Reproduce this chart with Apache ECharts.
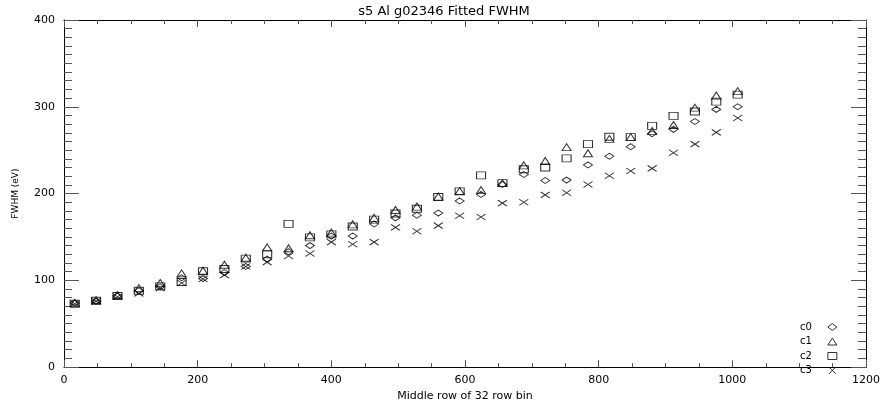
<!DOCTYPE html>
<html>
<head>
<meta charset="utf-8">
<script src="https://cdn.jsdelivr.net/npm/echarts@6/dist/echarts.min.js"></script>
<style>html,body{margin:0;padding:0;background:#fff;}#c{width:888px;height:407px;}</style>
</head>
<body>
<div id="c"></div>
<script>
// Row bin centres (middle row of each 32-row bin)
const rows = [16,48,80,112,144,176,208,240,272,304,336,368,400,432,464,496,528,560,592,624,656,688,720,752,784,816,848,880,912,944,976,1008];
const c0 = [74,76,82,88,92.5,103,102,109,116,124.5,133,140,151,151,165,172,175,177.5,191.5,199,210.5,222,215,215.5,233,243,254,269,274,283,297,300];
const c1 = [74,77,83,91,97,108,111,118,126,138,137,152,155,164.5,172,181,185,196.5,203,204,212,232.5,237.5,253.5,246.5,263,265,272,279,299,313,318];
const c2 = [73,76.5,82,88,93,98,110.5,113,125,130,165,149.5,153,162,170,177,182.5,196,202.5,221,212,228,230,240.5,257,265.5,265,278,289.5,294.5,306,314];
const c3 = [73,76,81,85,91,97,101.5,106,116,121,128,131,144,141.5,144,161,156.5,163,174.5,173,189,190,198.5,201,210.5,220.5,226,229,247,257,270.5,287];
const seriesNames = ['c0','c1','c2','c3'];
const xTicks = [0,200,400,600,800,1000,1200];
const yTicks = [0,100,200,300,400];

const pairs = arr => rows.map((r,i)=>[r,arr[i]]);
const FONT = 'DejaVu Sans';
const lineCol = '#000';
const tickCol = '#555';

const xSym = 'path://M0,0L10,10M10,0L0,10';
const mk = (name, data, symbol, size) => ({
  name, type:'scatter', data: pairs(data), symbol, symbolSize: size,
  xAxisIndex:0, yAxisIndex:0,
  itemStyle:{color:'rgba(0,0,0,0)', borderColor:'#000', borderWidth:1},
  emphasis:{disabled:true}, animation:false
});

const xBase = (pos, show) => ({
  type:'value', position:pos, min:xTicks[0], max:xTicks[xTicks.length-1], interval:200,
  axisLine:{show:true, onZero:false, lineStyle:{color:lineCol, width:1}},
  axisTick:{show:true, inside:true, length:7, lineStyle:{color:tickCol}},
  minorTick:{show:true, splitNumber:4, length:4, lineStyle:{color:tickCol}},
  splitLine:{show:false},
  axisLabel:{show:show, color:'#000', fontFamily:FONT, fontSize:11, margin:8, formatter: v => String(v)},
});
const yBase = (pos, show) => ({
  type:'value', position:pos, min:yTicks[0], max:yTicks[yTicks.length-1], interval:100,
  axisLine:{show:true, onZero:false, lineStyle:{color:lineCol, width:1}},
  axisTick:{show:true, inside:true, length:15, lineStyle:{color:tickCol}},
  minorTick:{show:true, splitNumber:10, length:8, lineStyle:{color:tickCol}},
  splitLine:{show:false},
  axisLabel:{show:show, color:'#000', fontFamily:FONT, fontSize:11, margin:9, formatter: v => String(v)},
});

const xa0 = Object.assign(xBase('bottom', true), {
  name:'Middle row of 32 row bin', nameLocation:'middle', nameGap:22,
  nameTextStyle:{color:'#000', fontFamily:FONT, fontSize:11}
});
const ya0 = Object.assign(yBase('left', true), {
  name:'FWHM (eV)', nameLocation:'middle', nameGap:44, nameRotate:90,
  nameTextStyle:{color:'#000', fontFamily:'Liberation Sans Narrow, ' + FONT, fontSize:9}
});

const chart = echarts.init(document.getElementById('c'), null, {renderer:'canvas'});
chart.setOption({
  animation:false,
  backgroundColor:'#fff',
  title:{text:'s5 Al g02346 Fitted FWHM', left:'center', top:0,
    textStyle:{color:'#000', fontFamily:FONT, fontSize:13, fontWeight:'normal'}},
  grid:{left:64, right:22, top:20, bottom:35, containLabel:false},
  xAxis:[xa0, xBase('top', false)],
  yAxis:[ya0, yBase('right', false)],
  legend:{
    orient:'vertical', left:795, top:317, align:'right',
    itemWidth:9, itemHeight:7, itemGap:4.5, itemTextGap:5,
    itemStyle:{color:'rgba(0,0,0,0)', borderColor:'#000', borderWidth:1},
    textStyle:{color:'#000', fontFamily:FONT, fontSize:10, padding:[0,11,0,0]},
    data:seriesNames, selectedMode:false
  },
  series:[
    mk(seriesNames[0], c0, 'diamond', [9,6]),
    mk(seriesNames[1], c1, 'triangle', [9,7]),
    mk(seriesNames[2], c2, 'rect', [9,7]),
    mk(seriesNames[3], c3, xSym, [9,6])
  ]
});
</script>
</body>
</html>
